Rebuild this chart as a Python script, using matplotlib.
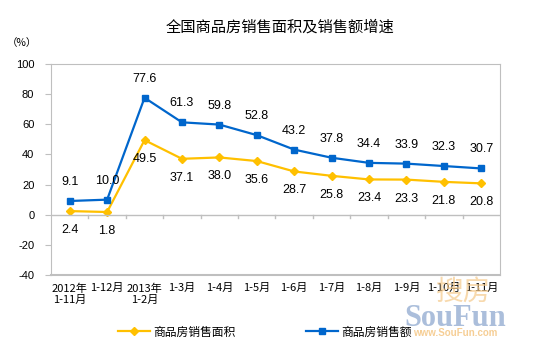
import matplotlib
matplotlib.use("Agg")
import matplotlib.pyplot as plt

plt.rcParams['font.family'] = ['Liberation Sans', 'Noto Sans CJK SC', 'DejaVu Sans']

categories = ["2012年\n1-11月", "1-12月", "2013年\n1-2月", "1-3月", "1-4月", "1-5月",
              "1-6月", "1-7月", "1-8月", "1-9月", "1-10月", "1-11月"]
area = [2.4, 1.8, 49.5, 37.1, 38.0, 35.6, 28.7, 25.8, 23.4, 23.3, 21.8, 20.8]
sales = [9.1, 10.0, 77.6, 61.3, 59.8, 52.8, 43.2, 37.8, 34.4, 33.9, 32.3, 30.7]
yticks = [100, 80, 60, 40, 20, 0, -20, -40]

fig = plt.figure(figsize=(5.54, 3.53), dpi=100)
ax = fig.add_axes([51/554, 1-275/353, 449/554, 211/353])

x = list(range(len(categories)))
yellow = '#FFC000'
blue = '#0066CC'
ax.plot(x, area, color=yellow, lw=1.6, marker='D', ms=4.5, label='商品房销售面积')
ax.plot(x, sales, color=blue, lw=1.6, marker='s', ms=4.5, label='商品房销售额')

for xi, v in zip(x, sales):
    ax.annotate(f"{v:.1f}", (xi, v), xytext=(0, 19), textcoords='offset pixels',
                ha='center', va='center', fontsize=9)
for xi, v in zip(x, area):
    ax.annotate(f"{v:.1f}", (xi, v), xytext=(0, -19), textcoords='offset pixels',
                ha='center', va='center', fontsize=9)

ax.set_xlim(-0.5, len(categories) - 0.5)
ax.set_ylim(-40, 100)
ax.set_yticks(yticks)
ax.set_yticklabels([str(t) for t in yticks], fontsize=8)
ax.tick_params(axis='y', length=4, color='#BFBFBF', pad=8)

ax.spines['bottom'].set_visible(False)
ax.axhline(0, color='#BFBFBF', lw=1)
ax.set_xticks([])
for b in [i + 0.5 for i in x[:-1]]:
    ax.plot([b, b], [0, -2.5], color='#BFBFBF', lw=1)
for spine in ['left', 'top', 'right']:
    ax.spines[spine].set_color('#BFBFBF')
ax.plot([0, 1], [0, 0], transform=ax.transAxes, color='#BFBFBF', lw=1.5, clip_on=False)

for xi, lab in zip(x, categories):
    ax.text(xi, -45.5, lab, ha='center', va='top', fontsize=8, linespacing=1.15,
            family=['Noto Sans CJK SC', 'DejaVu Sans'], zorder=5)

fig.text(280/554, 1-27/353, "全国商品房销售面积及销售额增速", ha='center', va='center',
         fontsize=11, family=['Noto Sans CJK SC', 'DejaVu Sans'])
fig.text(22/554, 1-43/353, "（%）", ha='center', va='center', fontsize=7.5,
         family=['Noto Sans CJK SC', 'DejaVu Sans'])

# watermark
fig.text(464/554, 1-292/353, "搜房", ha='center', va='center', fontsize=20, color='#F5C98A',
         family=['Noto Sans CJK SC'], alpha=0.7, zorder=0)
fig.text(455/554, 1-318/353, "SouFun", ha='center', va='center', fontsize=22, color='#8FA9CF',
         family=['Liberation Serif'], fontweight='bold', alpha=0.75, zorder=0)
fig.text(455/554, 1-333/353, "www.SouFun.com", ha='center', va='center', fontsize=7,
         color='#F5C98A', fontweight='bold', alpha=0.9, zorder=0)

leg = fig.legend(loc='center', bbox_to_anchor=(265/554, 1-332/353), ncol=2, frameon=False,
                 columnspacing=6.0, handlelength=2.7, handletextpad=0.3,
                 prop={'family': ['Noto Sans CJK SC', 'DejaVu Sans'], 'size': 8.5})

fig.savefig("out.png", dpi=100)
